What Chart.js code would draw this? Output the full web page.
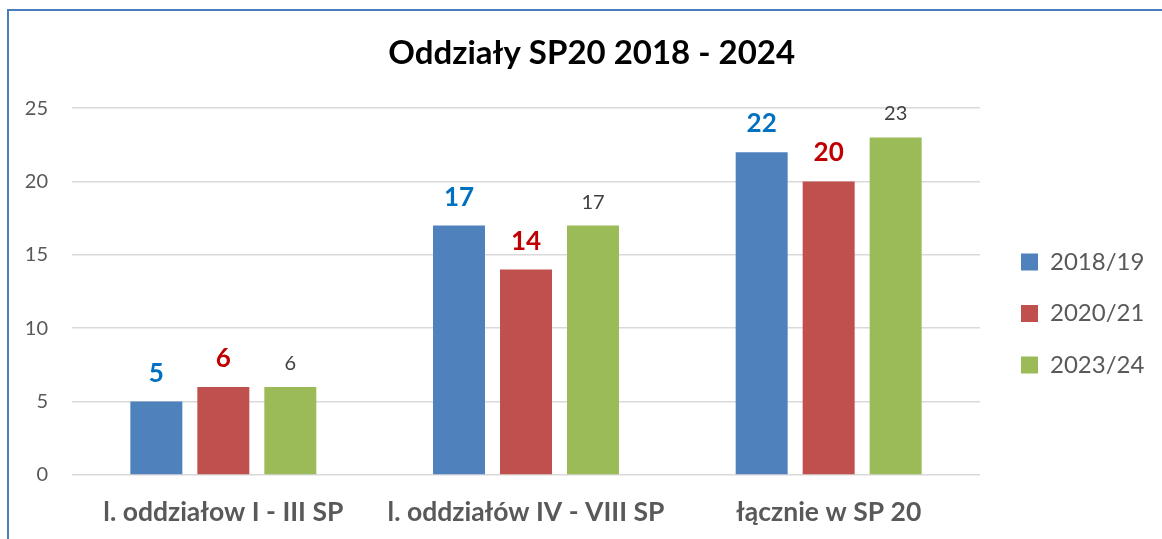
<!DOCTYPE html>
<html lang="pl">
<head>
<meta charset="utf-8">
<title>Oddziały SP20 2018 - 2024</title>
<script src="https://cdn.jsdelivr.net/npm/chart.js@4"></script>
<style>
  html, body { margin: 0; padding: 0; background: #fff; overflow: hidden; }
  #wrap { position: relative; width: 1162px; height: 539px; }
  #ramka {
    position: absolute; left: 7px; top: 9px; width: 1200px; height: 600px;
    border-top: 2px solid #4a7ebb; border-left: 2px solid #4a7ebb;
    pointer-events: none;
  }
  canvas { position: absolute; left: 0; top: 0; }
</style>
</head>
<body>
<div id="wrap">
  <canvas id="wykres" width="1162" height="539"></canvas>
  <div id="ramka"></div>
</div>
<script>
const kategorie = ["l. oddziałow I - III SP", "l. oddziałów IV - VIII SP", "łącznie w SP 20"];
const lata = ["2018/19", "2020/21", "2023/24"];
const rok2018 = [5, 17, 22];
const rok2020 = [6, 14, 20];
const rok2023 = [6, 17, 23];
const osY = [0, 5, 10, 15, 20, 25];

const FONT = "Lato, 'Open Sans', sans-serif";

// etykiety nad słupkami (kolor i grubość jak w oryginale)
const stylEtykiet = [
  { color: "#0070C0", weight: "bold", size: 26, gap: 20 },
  { color: "#C00000", weight: "bold", size: 26, gap: 20 },
  { color: "#404040", weight: "normal", size: 20, gap: 17 },
];

const etykiety = {
  id: "etykiety",
  afterDatasetsDraw(chart) {
    const ctx = chart.ctx;
    ctx.save();
    ctx.textAlign = "center";
    ctx.textBaseline = "alphabetic";
    chart.data.datasets.forEach((ds, i) => {
      const st = stylEtykiet[i];
      ctx.font = `${st.weight} ${st.size}px ${FONT}`;
      ctx.fillStyle = st.color;
      chart.getDatasetMeta(i).data.forEach((bar, j) => {
        ctx.fillText(String(ds.data[j]), bar.x, bar.y - st.gap);
      });
    });
    ctx.restore();
  }
};

// tytuł w oryginale jest wyśrodkowany względem ramki, nie płótna
const przesunTytul = {
  id: "przesunTytul",
  afterLayout(chart) {
    if (chart.titleBlock) chart.titleBlock.left += 30;
  }
};

const chartCanvas = document.getElementById("wykres");
const myChart = new Chart(chartCanvas, {
  type: "bar",
  data: {
    labels: kategorie,
    datasets: [
      { label: lata[0], data: rok2018, backgroundColor: "#4F81BD" },
      { label: lata[1], data: rok2020, backgroundColor: "#C0504D" },
      { label: lata[2], data: rok2023, backgroundColor: "#9BBB59" },
    ],
  },
  options: {
    responsive: false,
    devicePixelRatio: 1,
    animation: false,
    datasets: { bar: { categoryPercentage: 0.664, barPercentage: 0.776 } },
    layout: { padding: { left: 0, right: 8.5, top: 0, bottom: 0 } },
    plugins: {
      title: {
        display: true,
        text: "Oddziały SP20 2018 - 2024",
        color: "#000",
        font: { family: FONT, size: 33, weight: "bold" },
        padding: { top: 33.5, bottom: 35 },
      },
      legend: {
        position: "right",
        maxWidth: 160,
        // pusty tytuł legendy tylko przesuwa pozycje w pionie
        title: { display: true, text: "", font: { size: 10, lineHeight: 1 }, padding: { top: 78, bottom: 0 } },
        labels: {
          boxWidth: 17,
          boxHeight: 17,
          padding: 27.5,
          color: "#595959",
          font: { family: FONT, size: 24 },
        },
      },
      tooltip: { enabled: false },
    },
    scales: {
      x: {
        afterFit: (s) => { s.height = 64; },
        grid: { display: false, drawTicks: false },
        border: { display: false },
        ticks: { color: "#595959", padding: 22, font: { family: FONT, size: 26.5, weight: "bold" } },
      },
      y: {
        min: 0,
        max: 25,
        afterBuildTicks: (s) => { s.ticks = osY.map((v) => ({ value: v })); },
        afterFit: (s) => { s.width = 72; },
        grid: { color: "#d9d9d9", lineWidth: 1.5, drawTicks: false },
        border: { display: false },
        ticks: { color: "#595959", padding: 24, font: { family: FONT, size: 20 } },
      },
      prawa: {
        position: "right",
        afterFit: (s) => { s.width = 13.5; },
        grid: { display: false, drawTicks: false },
        border: { display: false },
        ticks: { display: false },
      },
    },
  },
  plugins: [etykiety, przesunTytul],
});
</script>
</body>
</html>
